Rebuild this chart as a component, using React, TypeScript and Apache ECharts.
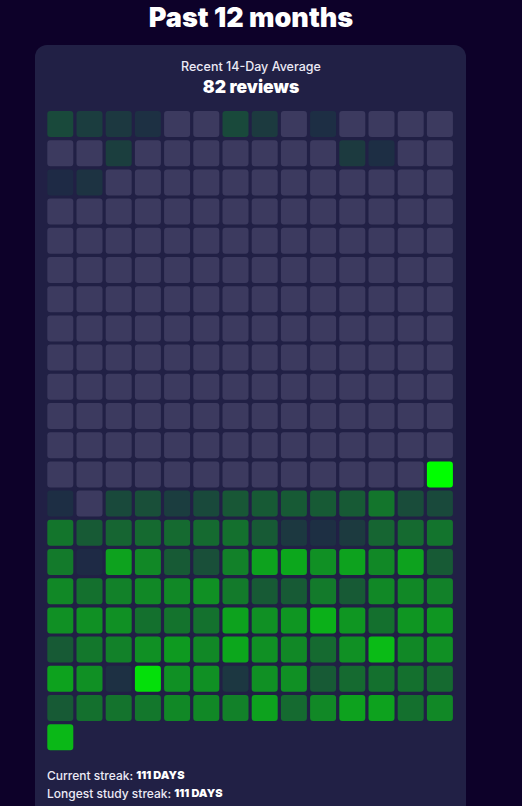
import { useEffect, useRef } from "react";
import * as echarts from "echarts";

const titleText = "Past 12 months";
const averageLabel = "Recent 14-Day Average";
const averageValue = 82;
const averageUnit = "reviews";
const currentStreakDays = 111;
const longestStreakDays = 111;
const columnsPerRow = 14;
const maxReviews = 185;

// reviews per day, chronological, 14 per row
const dailyReviews: number[] = [
  28, 17, 13, 6, 0, 0, 28, 15, 0, 4, 0, 0, 0, 0,
  0, 0, 18, 0, 0, 0, 0, 0, 0, 0, 15, 4, 0, 0,
  1, 9, 0, 0, 0, 0, 0, 0, 0, 0, 0, 0, 0, 0,
  0, 0, 0, 0, 0, 0, 0, 0, 0, 0, 0, 0, 0, 0,
  0, 0, 0, 0, 0, 0, 0, 0, 0, 0, 0, 0, 0, 0,
  0, 0, 0, 0, 0, 0, 0, 0, 0, 0, 0, 0, 0, 0,
  0, 0, 0, 0, 0, 0, 0, 0, 0, 0, 0, 0, 0, 0,
  0, 0, 0, 0, 0, 0, 0, 0, 0, 0, 0, 0, 0, 0,
  0, 0, 0, 0, 0, 0, 0, 0, 0, 0, 0, 0, 0, 0,
  0, 0, 0, 0, 0, 0, 0, 0, 0, 0, 0, 0, 0, 0,
  0, 0, 0, 0, 0, 0, 0, 0, 0, 0, 0, 0, 0, 0,
  0, 0, 0, 0, 0, 0, 0, 0, 0, 0, 0, 0, 0, 0,
  0, 0, 0, 0, 0, 0, 0, 0, 0, 0, 0, 0, 0, 185,
  4, 0, 28, 33, 17, 28, 40, 42, 42, 42, 42, 66, 30, 28,
  66, 42, 52, 56, 56, 56, 61, 42, 13, 5, 15, 52, 56, 65,
  70, 1, 105, 82, 42, 33, 76, 105, 109, 89, 105, 82, 105, 42,
  82, 61, 76, 82, 82, 89, 70, 42, 42, 70, 42, 82, 82, 76,
  89, 89, 89, 61, 64, 62, 105, 89, 94, 117, 94, 61, 94, 94,
  42, 67, 76, 89, 98, 82, 109, 89, 82, 56, 89, 126, 82, 89,
  105, 89, 6, 158, 89, 89, 12, 89, 89, 42, 56, 61, 61, 56,
  42, 61, 64, 67, 82, 82, 76, 105, 56, 82, 105, 105, 61, 82,
  124,
];

const FONT = "Inter, 'Noto Sans', sans-serif";

export default function App() {
  const ref = useRef<HTMLDivElement>(null);
  useEffect(() => {
    const chart = echarts.init(ref.current!, null, { renderer: "svg" });
    const active: number[][] = [];
    const empty: number[][] = [];
    dailyReviews.forEach((v, i) => {
      const pt = [i % columnsPerRow, Math.floor(i / columnsPerRow), v];
      (v > 0 ? active : empty).push(pt);
    });
    const rowCount = Math.ceil(dailyReviews.length / columnsPerRow);
    const gap = 3.2;
    const renderCell = (_params: any, api: any) => {
      const c = api.coord([api.value(0), api.value(1)]);
      const s = api.size([1, 1]);
      const w = s[0] - gap;
      const h = s[1] - gap;
      return {
        type: "rect",
        shape: { x: c[0] - w / 2, y: c[1] - h / 2, width: w, height: h, r: 3 },
        style: { fill: api.visual("color") },
      };
    };
    const richBold = { b: { fill: "#ffffff", font: `900 11px ${FONT}` } };
    chart.setOption({
      animation: false,
      backgroundColor: "#0d0129",
      grid: { left: 45.7, top: 109.4, width: 408.8, height: 642.4, containLabel: false },
      xAxis: { type: "value", min: -0.5, max: columnsPerRow - 0.5, show: false },
      yAxis: { type: "value", min: -0.5, max: rowCount - 0.5, inverse: true, show: false },
      visualMap: {
        show: false,
        seriesIndex: 0,
        dimension: 2,
        min: 0,
        max: maxReviews,
        inRange: { color: ["#1e2945", "#00ff00"] },
      },
      graphic: [
        {
          type: "rect",
          z: 0,
          shape: { x: 35, y: 45, width: 431, height: 800, r: 12 },
          style: { fill: "#212045" },
        },
        {
          type: "text",
          z: 1,
          style: {
            text: titleText,
            x: 251,
            y: 17,
            fill: "#ffffff",
            font: `900 27px ${FONT}`,
            textAlign: "center",
            textVerticalAlign: "middle",
          },
        },
        {
          type: "text",
          z: 1,
          style: {
            text: averageLabel,
            x: 251,
            y: 66,
            fill: "#eceaf5",
            font: `500 12.5px ${FONT}`,
            textAlign: "center",
            textVerticalAlign: "middle",
          },
        },
        {
          type: "text",
          z: 1,
          style: {
            text: `${averageValue} ${averageUnit}`,
            x: 251,
            y: 86,
            fill: "#ffffff",
            font: `900 17.5px ${FONT}`,
            textAlign: "center",
            textVerticalAlign: "middle",
          },
        },
        {
          type: "text",
          z: 1,
          style: {
            text: `Current streak: {b|${currentStreakDays} DAYS}`,
            x: 47,
            y: 775,
            fill: "#eceaf5",
            font: `500 12px ${FONT}`,
            textAlign: "left",
            textVerticalAlign: "middle",
            rich: richBold,
          },
        },
        {
          type: "text",
          z: 1,
          style: {
            text: `Longest study streak: {b|${longestStreakDays} DAYS}`,
            x: 47,
            y: 793,
            fill: "#eceaf5",
            font: `500 12px ${FONT}`,
            textAlign: "left",
            textVerticalAlign: "middle",
            rich: richBold,
          },
        },
      ],
      series: [
        {
          type: "custom",
          name: "reviews",
          z: 10,
          renderItem: renderCell,
          data: active,
          silent: true,
        },
        {
          type: "custom",
          name: "no reviews",
          z: 10,
          renderItem: renderCell,
          itemStyle: { color: "#3c3a5f" },
          data: empty,
          silent: true,
        },
      ],
    });
    return () => chart.dispose();
  }, []);
  return (
    <div style={{ position: "fixed", left: 0, top: 0, width: 522, height: 806 }}>
      <div ref={ref} style={{ width: 522, height: 806 }} />
    </div>
  );
}
